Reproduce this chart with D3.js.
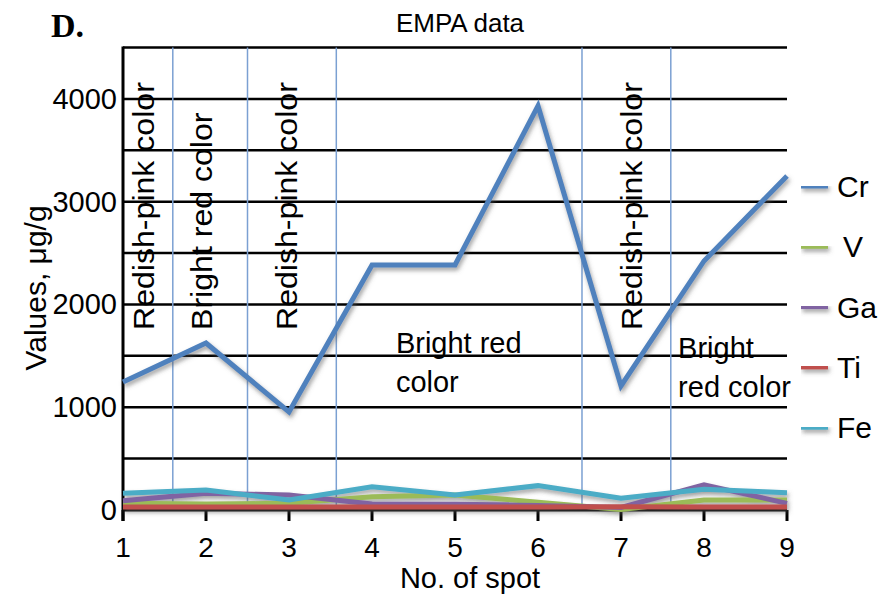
<!DOCTYPE html>
<html>
<head>
<meta charset="utf-8">
<script src="https://cdn.jsdelivr.net/npm/d3@7"></script>
<style>
  body { margin: 0; background: #fff; }
  text { font-family: "Liberation Sans", Arial, sans-serif; fill: #000; }
</style>
</head>
<body>
<svg width="885" height="600"></svg>
<script>
const width = 885;
const height = 600;

// spot numbers on the x axis
const spots = [1, 2, 3, 4, 5, 6, 7, 8, 9];

// values, ug/g
const cr = [1246, 1625, 954, 2384, 2384, 3932, 1207, 2423, 3250];
const v = [65, 58, 65, 130, 146, 75, 5, 97, 97];
const ga = [91, 162, 146, 58, 55, 45, 25, 245, 65];
const ti = [30, 30, 30, 28, 28, 30, 32, 30, 28];
const fe = [162, 195, 97, 227, 146, 237, 114, 201, 169];

const seriesNames = ["Cr", "V", "Ga", "Ti", "Fe"];
const seriesColors = ["#4f81bd", "#9bbb59", "#8064a2", "#c0504d", "#4bacc6"];
const seriesValues = [cr, v, ga, ti, fe];

const yTicks = [0, 1000, 2000, 3000, 4000];
const gridValues = [500, 1000, 1500, 2000, 2500, 3000, 3500, 4000, 4500];

// colour zones: boundaries between spots, and their labels
const zoneBounds = [1.6, 2.5, 3.57, 6.53, 7.6];
const rotatedNotes = [
  { x: 1, text: "Redish-pink color" },
  { x: 2, text: "Bright red color" },
  { x: 3, text: "Redish-pink color" },
  { x: 7, text: "Redish-pink color" }
];
const flatNotes = [
  { x: 4.3, lines: ["Bright red", "color"], dy: 0 },
  { x: 7.7, lines: ["Bright", "red color"], dy: 5 }
];

const margin = { top: 47.5, right: 98, bottom: 90, left: 123 };

let x = d3
  .scaleLinear()
  .domain([1, 9])
  .range([margin.left, width - margin.right]);

let y = d3
  .scaleLinear()
  .domain([0, 4500])
  .range([510, margin.top]);

const svg = d3.select("svg");

const defs = svg.append("defs");
defs
  .append("filter")
  .attr("id", "shadow")
  .attr("filterUnits", "userSpaceOnUse")
  .attr("x", 0)
  .attr("y", 0)
  .attr("width", width)
  .attr("height", height)
  .append("feDropShadow")
  .attr("dx", 1.5)
  .attr("dy", 3)
  .attr("stdDeviation", 2)
  .attr("flood-color", "#555")
  .attr("flood-opacity", 0.55);

// grid
svg
  .append("g")
  .selectAll("line")
  .data(gridValues)
  .join("line")
  .attr("x1", x(1))
  .attr("x2", x(9))
  .attr("y1", d => y(d))
  .attr("y2", d => y(d))
  .attr("stroke", "#000")
  .attr("stroke-width", 2.5);

// zone separators
svg
  .append("g")
  .selectAll("line")
  .data(zoneBounds)
  .join("line")
  .attr("x1", d => x(d))
  .attr("x2", d => x(d))
  .attr("y1", y(4500))
  .attr("y2", 511)
  .attr("stroke", "#7ba0d2")
  .attr("stroke-width", 1.5);

// axes
const xAxis = svg.append("g").attr("transform", `translate(0,${y(0)})`);
xAxis
  .append("line")
  .attr("x1", x(1))
  .attr("x2", x(9))
  .attr("stroke", "#000")
  .attr("stroke-width", 3);
xAxis
  .selectAll(".tick")
  .data(spots)
  .join("line")
  .attr("class", "tick")
  .attr("x1", d => x(d))
  .attr("x2", d => x(d))
  .attr("y1", 0)
  .attr("y2", 11)
  .attr("stroke", "#000")
  .attr("stroke-width", 3);
xAxis
  .selectAll("text")
  .data(spots)
  .join("text")
  .attr("x", d => x(d))
  .attr("y", 47)
  .attr("text-anchor", "middle")
  .style("font-size", "28px")
  .text(d => d);

svg
  .append("line")
  .attr("x1", x(1))
  .attr("x2", x(1))
  .attr("y1", y(4500) - 1)
  .attr("y2", 521)
  .attr("stroke", "#000")
  .attr("stroke-width", 3);

svg
  .append("g")
  .selectAll("text")
  .data(yTicks)
  .join("text")
  .attr("x", x(1) - 6)
  .attr("y", d => y(d) + 10)
  .attr("text-anchor", "end")
  .style("font-size", "29px")
  .text(d => d);

// series lines
let line = d3
  .line()
  .x((d, i) => x(spots[i]))
  .y(d => y(d));

svg
  .append("g")
  .attr("filter", "url(#shadow)")
  .selectAll("path")
  .data(seriesValues)
  .join("path")
  .attr("d", line)
  .attr("fill", "none")
  .attr("stroke", (d, i) => seriesColors[i])
  .attr("stroke-width", 5)
  .attr("stroke-linejoin", "miter");

// notes
const noteShift = [31, 6, 8, 21];
svg
  .append("g")
  .selectAll("text")
  .data(rotatedNotes)
  .join("text")
  .attr("transform", (d, i) => `translate(${x(d.x) + noteShift[i]},330) rotate(-90) scale(1.07,1)`)
  .style("font-size", "30px")
  .text(d => d.text);

flatNotes.forEach(n => {
  const t = svg
    .append("text")
    .attr("x", x(n.x) - 1)
    .attr("y", 353 + n.dy)
    .style("font-size", "29px");
  n.lines.forEach((s, i) => {
    t.append("tspan")
      .attr("x", x(n.x) - 1)
      .attr("dy", i === 0 ? 0 : 39)
      .text(s);
  });
});

// legend
const legend = svg
  .append("g")
  .selectAll("g")
  .data(seriesNames)
  .join("g")
  .attr("transform", (d, i) => `translate(801,${186 + i * 60.3})`);
legend
  .append("rect")
  .attr("y", -2.5)
  .attr("width", 27)
  .attr("height", 5)
  .attr("fill", (d, i) => seriesColors[i])
  .attr("filter", "url(#shadow)");
legend
  .append("text")
  .attr("x", (d, i) => (i === 1 ? 42 : 36))
  .attr("y", 11)
  .style("font-size", "30px")
  .text(d => d);

// titles
svg
  .append("text")
  .attr("x", 460)
  .attr("y", 32)
  .attr("text-anchor", "middle")
  .style("font-size", "26px")
  .text("EMPA data");

svg
  .append("text")
  .attr("x", 51)
  .attr("y", 37)
  .style("font-family", "'Liberation Serif', 'Times New Roman', serif")
  .style("font-weight", "bold")
  .style("font-size", "34px")
  .text("D.");

svg
  .append("text")
  .attr("x", 470)
  .attr("y", 588)
  .attr("text-anchor", "middle")
  .style("font-size", "29px")
  .text("No. of spot");

svg
  .append("text")
  .attr("transform", "translate(46,288) rotate(-90)")
  .attr("text-anchor", "middle")
  .style("font-size", "30px")
  .text("Values, μg/g");
</script>
</body>
</html>
